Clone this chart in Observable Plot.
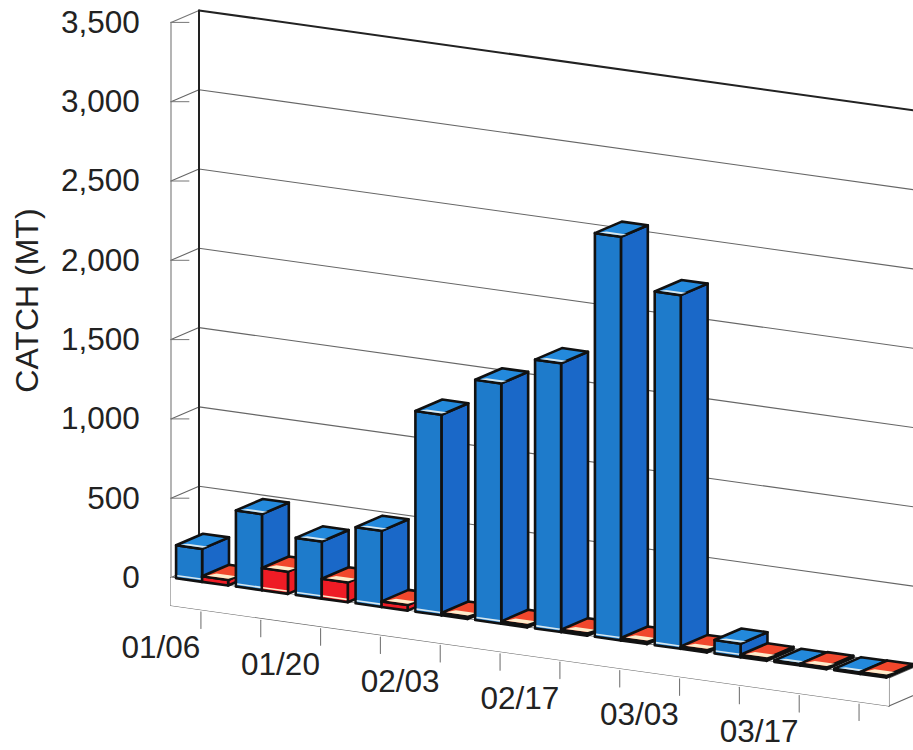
<!DOCTYPE html>
<html>
<head>
<meta charset="utf-8">
<style>
  html, body { margin: 0; padding: 0; background: #fff; overflow: hidden; }
  svg { display: block; }
</style>
<script src="https://cdn.jsdelivr.net/npm/d3@7"></script>
<script src="https://cdn.jsdelivr.net/npm/@observablehq/plot@0.6"></script>
</head>
<body>
<div id="chart"></div>
<script>
// Weekly catch in metric tons, two fleets side by side for each week.
const weekCount = 12;
const blueCatch = [208, 480, 360, 480, 1265, 1515, 1695, 2545, 2230, 85, 10, 10];
const redCatch = [35, 140, 125, 35, 15, 15, 15, 15, 15, 15, 12, 12];
const catchTicks = [0, 500, 1000, 1500, 2000, 2500, 3000, 3500];
const dateLabels = ["01/06", "01/20", "02/03", "02/17", "03/03", "03/17"];

// Oblique 3-D view: u runs along the weeks, c is catch, d is depth into the box.
const pxPerWeek = 59.83;
const pxPerTon = 0.1586;
const skew = -8.37 / pxPerTon;     // the floor falls away to the right
const depthX = 28 / pxPerWeek;
const depthY = 12 / pxPerTon;
const floorDrop = -28 / pxPerTon;  // thickness of the plinth
const project = (u, c, d = 0) => ({x: u + d * depthX, y: c + u * skew + d * depthY});

const poly = (fill, stroke, pts) => ({fill, stroke, pts: pts.map(([u, c, d]) => project(u, c, d))});
const shapes = [];
const line = (pts) => pts.map(([u, c, d]) => project(u, c, d));

// White plinth under the bars
const wallEnd = 12.6;
shapes.push(poly("#fff", "none", [[0, 0, 0], [12, 0, 0], [12, floorDrop, 0], [0, floorDrop, 0], [0, 0, 0]]));

const palette = {
  blue: {front: "#1e7bcb", side: "#1a68c8", top: "#2389dc", strip: "#d9e8ee", band: 0.2},
  red: {front: "#ee1c25", side: "#ee1c25", top: "#f1472c", strip: "#fdeccb", band: 0.3}
};

// One box: side, front and top faces, painted back to front
function box(u0, width, value, colors) {
  const u1 = u0 + width, D = 0.96, K = "#111";
  const lift = value;
  shapes.push(poly(colors.side, K, [[u1, 0, 0], [u1, 0, D], [u1, lift, D], [u1, lift, 0], [u1, 0, 0]]));
  shapes.push(poly(colors.front, K, [[u0, 0, 0], [u1, 0, 0], [u1, lift, 0], [u0, lift, 0], [u0, 0, 0]]));
  shapes.push(poly(colors.top, K, [[u0, lift, 0], [u1, lift, 0], [u1, lift, D], [u0, lift, D], [u0, lift, 0]]));
  shapes.push(poly(colors.strip, "none", [[u0 + 0.04, lift, 0.08], [u1 - 0.03, lift, 0.08], [u1, lift, colors.band], [u0 + 0.1, lift, colors.band]]));
  if (value > 60) {
    const sh = Math.min(10, value * 0.2);
    shapes.push(poly(colors.strip, "none", [[u0 + 0.02, 12, 0], [u1 - 0.02, 12, 0], [u1 - 0.02, 12 + sh, 0], [u0 + 0.02, 12 + sh, 0]]));
  }
}
for (let k = 0; k < weekCount; ++k) {
  box(k + 0.085, 0.435, blueCatch[k], palette.blue);
  box(k + 0.52, 0.435, redCatch[k], palette.red);
}
shapes.forEach((s, i) => s.pts.forEach((p) => Object.assign(p, {id: i, fill: s.fill, stroke: s.stroke})));
const faces = shapes.flatMap((s) => s.pts);

// Wall grid lines, each a little polyline across the side wall and back wall
const grid = catchTicks.map((c) => line([[0, c, 0], [0, c, 1], [wallEnd, c, 1]]));
const gridPts = catchTicks.slice(0, -1).flatMap((c, i) => grid[i].map((p) => ({...p, id: c})));
const topEdge = [project(0, 3500, 1), project(wallEnd, 3500, 1)];
const topSide = line([[0, 3500, 0], [0, 3500, 1]]);
const backPost = line([[0, 0, 1], [0, 3500, 1]]);
const leftEdge = line([[0, floorDrop, 0], [0, 3500, 0]]);
const wallTicks = catchTicks.flatMap((c) => {
  const p = project(0, c, 0);
  return [{...p, id: c}, {x: p.x + 0.3, y: p.y, id: c}];
});
const plinth = [
  {pts: line([[0, floorDrop, 0], [12, floorDrop, 0], [12, floorDrop, 0]]), id: "bottom"},
  {pts: line([[12, floorDrop, 0], [12, 0, 0]]), id: "end"},
  {pts: line([[12, floorDrop, 0], [12, floorDrop, 1]]), id: "underside"},
  {pts: line([[12, 0, 0], [12, 0, 1]]), id: "endTop"},
  {pts: line([[0, 0, 0], [12, 0, 0]]), id: "front"}
].flatMap((s) => s.pts.map((p) => ({...p, id: s.id})));

// Week ticks hang below the plinth at the middle of each week
const weekTicks = d3.range(weekCount).flatMap((k) => {
  const a = project(k + 0.5, floorDrop - 14), b = project(k + 0.5, floorDrop - 118);
  return [{...a, id: k}, {...b, id: k}];
});
const dateText = dateLabels.map((label, i) => ({label, ...project(2 * i + 0.5 - 0.67, -456)}));
const catchText = catchTicks.map((c) => ({label: d3.format(",")(c), x: -0.52, y: c - 2}));

const W = 913, H = 750, ox = 170.5, oy = 577;
const chart = Plot.plot({
  width: W,
  height: H,
  margin: 0,
  x: {domain: [-ox / pxPerWeek, (W - ox) / pxPerWeek], range: [0, W], axis: null},
  y: {domain: [(oy - H) / pxPerTon, oy / pxPerTon], range: [H, 0], axis: null},
  style: {fontFamily: "'Liberation Sans', Arial, sans-serif", background: "#fff", overflow: "hidden"},
  marks: [
    Plot.line(gridPts, {x: "x", y: "y", z: "id", stroke: "#666", strokeWidth: 1.1}),
    Plot.line(wallTicks, {x: "x", y: "y", z: "id", stroke: "#777", strokeWidth: 1}),
    Plot.line(leftEdge, {x: "x", y: "y", stroke: "#777", strokeWidth: 1.1}),
    Plot.line(topSide, {x: "x", y: "y", stroke: "#777", strokeWidth: 1.1}),
    Plot.line(topEdge, {x: "x", y: "y", stroke: "#222", strokeWidth: 2}),
    Plot.line(backPost, {x: "x", y: "y", stroke: "#222", strokeWidth: 2}),
    Plot.line(plinth, {x: "x", y: "y", z: "id", stroke: "#666", strokeWidth: 1.2}),
    Plot.line(faces, {x: "x", y: "y", z: "id", fill: "fill", stroke: "stroke", strokeWidth: 2.6}),
    Plot.line(weekTicks, {x: "x", y: "y", z: "id", stroke: "#777", strokeWidth: 1.1}),
    Plot.text(catchText, {x: "x", y: "y", text: "label", textAnchor: "end", fontSize: 31.5, fill: "#222"}),
    Plot.text(dateText, {x: "x", y: "y", text: "label", fontSize: 31.5, fill: "#222"}),
    Plot.text(["CATCH (MT)"], {x: [-2.4], y: [1746], text: (d) => d, rotate: -90, fontSize: 32, fill: "#222"})
  ]
});
document.getElementById("chart").append(chart);
</script>
</body>
</html>
